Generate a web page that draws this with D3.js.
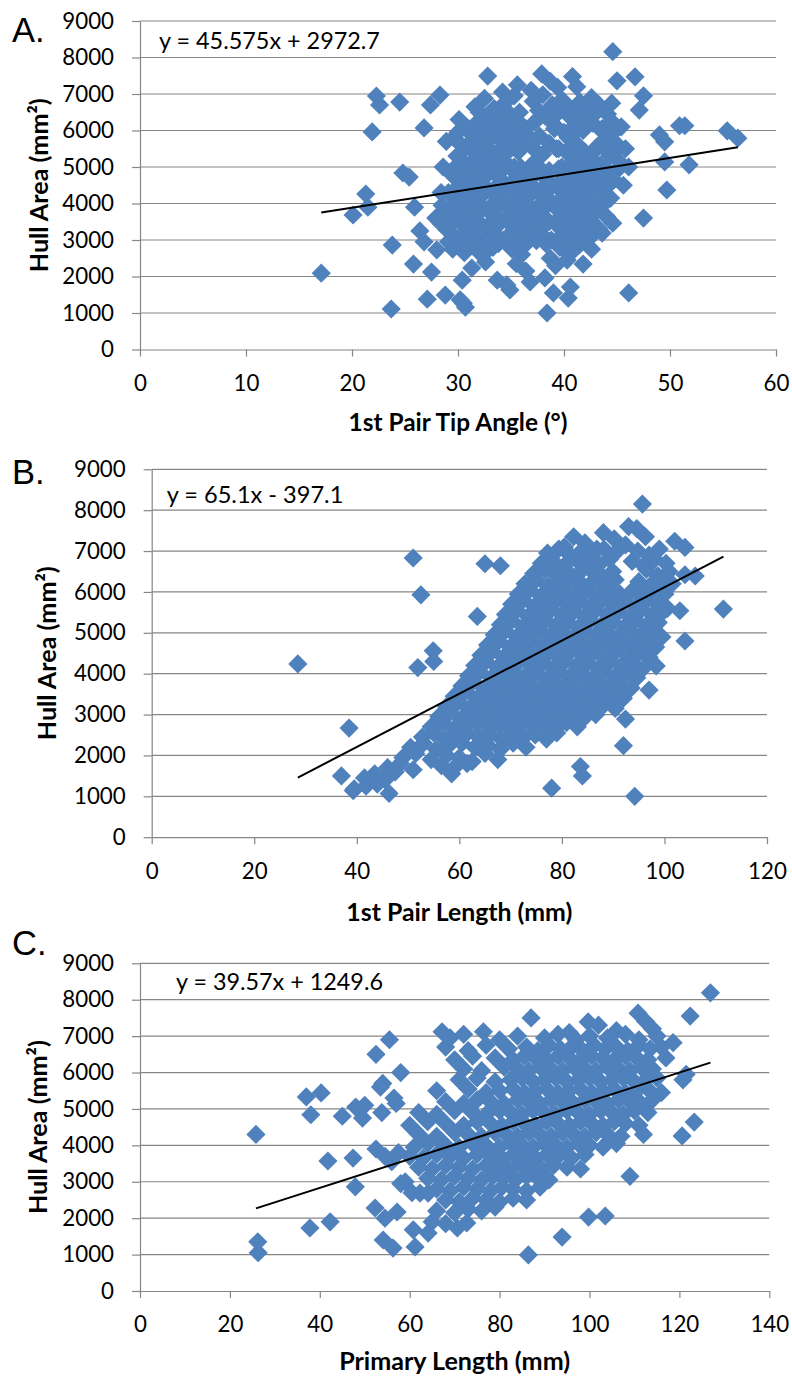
<!DOCTYPE html>
<html><head><meta charset="utf-8">
<script src="https://cdn.jsdelivr.net/npm/d3@7"></script>
<style>body{margin:0;background:#fff}svg{display:block}</style>
</head><body>
<svg id="chart" width="792" height="1382"></svg>
<script>
// ---------- labels / ticks ----------
const panelLabels = ["A.", "B.", "C."];
const yTitle = "Hull Area (mm²)";
const xTitles = ["1st Pair Tip Angle (°)", "1st Pair Length (mm)", "Primary Length (mm)"];
const equations = ["y = 45.575x + 2972.7", "y = 65.1x - 397.1", "y = 39.57x + 1249.6"];
const slopes = [45.575, 65.1, 39.57];
const intercepts = [2972.7, -397.1, 1249.6];
const yTicks = [0, 1000, 2000, 3000, 4000, 5000, 6000, 7000, 8000, 9000];
const xTicksA = [0, 10, 20, 30, 40, 50, 60];
const xTicksB = [0, 20, 40, 60, 80, 100, 120];
const xTicksC = [0, 20, 40, 60, 80, 100, 120, 140];

// ---------- data: [x, hull area] ----------
const dataA = [
[17.1,2090],[20.1,3685],[21.3,4260],[21.5,3900],[21.9,5960],[22.3,6945],[22.6,6700],[23.7,1110],[23.8,2860],[24.5,6780],
[24.8,4835],[25.4,4725],[25.8,2340],[25.9,3900],[26.4,3250],[27.1,1380],[27.5,2120],[28.3,6970],[27.4,6700],[26.8,6070],
[28.8,1490],[30.7,1160],[30.2,1360],[32.8,7490],[44.6,8160],[45.0,7360],[46.7,7470],[47.5,6950],[47.1,6560],[49.0,5880],
[49.5,5690],[50.9,6130],[51.4,6130],[55.4,5990],[56.4,5790],[51.8,5060],[49.5,5140],[49.7,4370],[47.5,3600],[46.1,1550],
[41.8,2340],[42.6,2750],[43.6,3190],[44.6,3460],[40.6,1710],[40.4,1410],[38.4,1000],[39.0,1550],[34.9,1630],[34.6,1770],
[33.7,1900],[30.5,1270],[30.4,1900],[31.3,2230],[28.0,2730],[26.8,2950],[27.9,3600],[28.4,4300],[28.6,5000],[28.9,5700],
[34.2,7050],[35.6,7250],[36.9,7100],[37.9,7550],[38.7,7350],[39.4,7180],[40.8,7480],[41.2,7200],[42.6,6900],[44.5,6750],
[31.6,6650],[32.5,6880],[33.4,6600],[34.4,6750],[35.3,6950],[37.1,6800],[38.0,6980],[38.9,6700],[39.8,6850],[40.6,6600],[41.5,6780],[42.4,6550],[43.3,6700],[44.1,6450],
[32.0,6500],[33.0,6400],[33.9,6550],[34.9,6450],[35.8,6500],[37.6,6550],[38.5,6450],[39.5,6500],[40.4,6420],[41.3,6500],[42.2,6400],[43.0,6480],
[30.1,6300],[31.0,6050],[31.9,6250],[32.8,6100],[33.7,6350],[34.6,6150],[35.5,6300],[36.4,6050],[37.3,6250],[38.2,6400],[39.1,6150],[40.9,6100],[41.8,6350],[42.7,6200],[43.6,6050],[44.5,6250],[45.4,6100],
[30.0,5950],[30.9,6000],[31.8,5900],[32.8,6020],[33.7,5950],[34.6,5880],[35.5,6000],[36.4,5920],[39.1,6050],[40.0,5950],[40.9,5900],[41.8,6000],[43.6,5980],[44.5,5900],
[29.6,5800],[30.5,5550],[31.4,5750],[32.3,5600],[33.2,5850],[34.1,5700],[35.0,5500],[35.9,5750],[36.8,5600],[37.7,5850],[38.6,5650],[39.5,5500],[40.4,5800],[41.3,5600],[43.1,5550],[44.0,5800],[44.9,5650],[45.8,5500],
[30.3,5400],[31.2,5500],[32.1,5420],[33.0,5480],[33.9,5400],[34.8,5500],[35.7,5420],[37.5,5400],[39.3,5500],[40.2,5420],[41.1,5480],[42.0,5400],[42.9,5450],[43.8,5500],[44.7,5420],
[29.9,5300],[30.8,5050],[31.7,5250],[32.6,5100],[33.5,5350],[34.4,5150],[35.3,5000],[37.1,5100],[38.0,5350],[39.8,5000],[40.7,5300],[41.6,5100],[42.5,5250],[43.4,5050],[44.3,5300],[45.2,5150],[46.1,5000],
[29.6,4950],[30.5,4900],[31.4,5000],[32.3,4920],[33.2,4980],[34.1,4900],[35.0,4950],[35.9,5000],[36.8,4920],[37.7,4980],[38.6,4900],[39.5,4950],[40.4,5000],[41.3,4920],[42.2,4980],[43.1,4900],[44.0,4950],[44.9,4880],
[29.4,4800],[30.3,4550],[31.2,4750],[32.1,4600],[33.0,4850],[33.9,4700],[34.8,4500],[35.7,4750],[36.6,4600],[37.5,4850],[38.4,4650],[39.3,4500],[40.2,4800],[41.1,4600],[42.0,4750],[42.9,4550],[43.8,4800],[44.7,4650],[45.6,4500],
[29.8,4400],[30.7,4500],[31.6,4420],[32.5,4480],[33.4,4400],[34.3,4450],[35.2,4500],[36.1,4420],[37.0,4480],[37.9,4400],[38.8,4450],[39.7,4500],[40.6,4420],[41.5,4480],[42.4,4400],[43.3,4450],[44.2,4500],
[29.1,4300],[30.0,4050],[30.9,4250],[31.8,4100],[32.7,4350],[33.6,4200],[34.5,4000],[35.4,4250],[36.3,4100],[37.2,4350],[38.1,4150],[39.0,4000],[39.9,4300],[40.8,4100],[41.7,4250],[42.6,4050],[43.5,4300],[44.4,4150],
[28.5,3950],[29.4,3900],[30.3,4000],[31.2,3920],[32.1,3980],[33.0,3900],[33.9,3950],[34.8,4000],[35.7,3920],[36.6,3980],[37.5,3900],[38.4,3950],[39.3,4000],[40.2,3920],[41.1,3980],[42.0,3900],[42.9,3950],[43.8,4000],
[28.7,3800],[29.6,3550],[30.5,3750],[31.4,3600],[32.3,3850],[33.2,3700],[34.1,3500],[35.0,3750],[35.9,3600],[36.8,3850],[37.7,3650],[38.6,3500],[39.5,3800],[40.4,3600],[41.3,3750],[42.2,3550],[43.1,3800],[44.0,3650],
[28.4,3450],[29.3,3400],[30.2,3500],[31.1,3420],[32.0,3480],[32.9,3400],[33.8,3450],[34.7,3500],[35.6,3420],[36.5,3480],[37.4,3400],[38.3,3450],[39.2,3500],[40.1,3420],[41.0,3480],[41.9,3400],[42.8,3450],
[28.9,3300],[29.8,3050],[30.7,3250],[31.6,3100],[32.5,3350],[33.4,3200],[34.3,3000],[35.2,3250],[36.1,3100],[37.0,3350],[37.9,3150],[38.8,3000],[39.7,3300],[40.6,3100],[41.5,3250],[42.4,3050],[43.3,3300],
[29.1,2950],[30.1,2900],[31.0,3000],[31.9,2920],[32.9,2980],[33.8,2900],[35.6,3000],[36.5,2920],[37.4,2980],[38.3,2900],[39.2,2950],[40.1,3000],[41.0,2920],[41.9,2980],
[29.5,2750],[30.6,2650],[31.5,2850],[32.4,2600],[33.3,2800],[35.1,2750],[36.0,2600],[38.7,2500],[39.6,2800],[40.5,2600],[41.4,2850],
[32.6,2400],[35.5,2350],[36.4,2150],[39.2,2300],[40.3,2450],[38.2,1960],[36.8,1850],[32.2,2600]
];

const dataB = [
[28.5,4240],[38.5,2670],[37.0,1500],[39.3,1140],[46.3,1070],[51.0,6830],[52.5,5930],[54.9,4560],[51.9,4150],[55.0,4300],[63.5,5400],[65.0,6690],[68.0,6640],
[95.7,8150],[111.5,5580],[106.0,6390],[104.0,6420],[102.0,7240],[104.0,7090],[98.4,4190],[92.4,2890],[92.0,2240],[83.6,1730],[84.0,1500],[78.0,1200],[94.2,1000],[103.0,5540],[104.0,4800],[97.0,3600],
[80.5,7100],[82.3,7350],[84.5,7200],[86.8,7050],[88.1,7450],[90.2,7300],[92.4,7150],[94.6,7550],[96.3,7350],[93.0,7600],
[77.2,6950],[79.4,7050],[81.6,6900],[83.8,7000],[86.0,6850],[88.2,7050],[90.4,6950],[94.8,7000],[97.0,6900],[99.0,7050],
[76.0,6700],[78.3,6750],[80.5,6650],[82.7,6800],[84.9,6700],[87.1,6650],[89.3,6800],[93.7,6750],[95.9,6650],[98.1,6800],[100.3,6700],
[74.5,6450],[76.7,6550],[78.9,6400],[81.1,6500],[83.3,6450],[85.5,6550],[87.7,6400],[89.9,6500],[96.5,6550],[98.7,6400],[100.9,6500],
[72.8,6200],[75.0,6300],[77.2,6150],[79.4,6250],[81.6,6300],[83.8,6200],[86.0,6250],[88.2,6150],[90.4,6300],[95.0,6250],[97.2,6150],[99.4,6300],[101.5,6200],
[71.5,5950],[73.7,6050],[75.9,5900],[78.1,6000],[80.3,6050],[82.5,5950],[84.7,6000],[86.9,5900],[89.1,6050],[91.3,5950],[93.5,6000],[95.7,5900],[97.9,6050],[100.1,5950],
[70.2,5700],[72.4,5800],[74.6,5650],[76.8,5750],[79.0,5800],[81.2,5700],[83.4,5750],[85.6,5650],[87.8,5800],[90.0,5700],[92.2,5750],[94.4,5650],[96.6,5800],[98.8,5700],[100.6,5600],
[69.0,5450],[71.2,5550],[73.4,5400],[75.6,5500],[77.8,5550],[80.0,5450],[82.2,5500],[84.4,5400],[86.6,5550],[88.8,5450],[91.0,5500],[93.2,5400],[95.4,5550],[97.6,5450],[99.6,5500],
[68.0,5200],[70.2,5300],[72.4,5150],[74.6,5250],[76.8,5300],[79.0,5200],[81.2,5250],[83.4,5150],[85.6,5300],[87.8,5200],[90.0,5250],[92.2,5150],[94.4,5300],[96.6,5200],[98.8,5250],
[66.8,4950],[69.0,5050],[71.2,4900],[73.4,5000],[75.6,5050],[77.8,4950],[80.0,5000],[82.2,4900],[84.4,5050],[86.6,4950],[88.8,5000],[91.0,4900],[93.2,5050],[95.4,4950],[97.6,5000],[99.5,4900],
[65.5,4700],[67.7,4800],[69.9,4650],[72.1,4750],[74.3,4800],[76.5,4700],[78.7,4750],[80.9,4650],[83.1,4800],[85.3,4700],[87.5,4750],[89.7,4650],[91.9,4800],[94.1,4700],[96.3,4750],[98.3,4650],
[64.2,4450],[66.4,4550],[68.6,4400],[70.8,4500],[73.0,4550],[75.2,4450],[77.4,4500],[79.6,4400],[81.8,4550],[84.0,4450],[86.2,4500],[88.4,4400],[90.6,4550],[92.8,4450],[95.0,4500],[97.0,4400],
[63.0,4200],[65.2,4300],[67.4,4150],[69.6,4250],[71.8,4300],[74.0,4200],[76.2,4250],[78.4,4150],[80.6,4300],[82.8,4200],[85.0,4250],[87.2,4150],[89.4,4300],[91.6,4200],[93.8,4250],[96.0,4150],
[61.8,3950],[64.0,4050],[66.2,3900],[68.4,4000],[70.6,4050],[72.8,3950],[75.0,4000],[77.2,3900],[79.4,4050],[81.6,3950],[83.8,4000],[86.0,3900],[88.2,4050],[90.4,3950],[92.6,4000],[94.6,3900],
[60.5,3700],[62.7,3800],[64.9,3650],[67.1,3750],[69.3,3800],[71.5,3700],[73.7,3750],[75.9,3650],[78.1,3800],[80.3,3700],[82.5,3750],[84.7,3650],[86.9,3800],[89.1,3700],[91.3,3750],[93.5,3650],
[59.0,3450],[61.2,3550],[63.4,3400],[65.6,3500],[67.8,3550],[70.0,3450],[72.2,3500],[74.4,3400],[76.6,3550],[78.8,3450],[81.0,3500],[83.2,3400],[85.4,3550],[87.6,3450],[89.8,3500],[92.0,3400],
[57.5,3200],[59.7,3300],[61.9,3150],[64.1,3250],[66.3,3300],[68.5,3200],[70.7,3250],[72.9,3150],[75.1,3300],[77.3,3200],[79.5,3250],[81.7,3150],[83.9,3300],[86.1,3200],[88.3,3250],[90.4,3150],
[56.0,2950],[58.2,3050],[60.4,2900],[62.6,3000],[64.8,3050],[67.0,2950],[69.2,3000],[71.4,2900],[73.6,3050],[75.8,2950],[78.0,3000],[80.2,2900],[82.4,3050],[84.6,2950],[86.6,3000],
[54.5,2700],[56.7,2800],[58.9,2650],[61.1,2750],[63.3,2800],[65.5,2700],[67.7,2750],[69.9,2650],[72.1,2800],[74.3,2700],[76.5,2750],[78.7,2650],[80.9,2800],[83.0,2700],
[52.8,2450],[55.0,2550],[57.2,2400],[59.4,2500],[61.6,2550],[63.8,2450],[66.0,2500],[68.2,2400],[70.4,2550],[72.6,2450],[74.8,2500],[77.0,2400],[79.0,2550],
[50.5,2200],[53.0,2300],[55.5,2150],[58.0,2250],[60.5,2300],[63.0,2200],[65.5,2250],[68.0,2150],[70.5,2300],[73.0,2200],
[49.0,1950],[51.5,2050],[54.5,1900],[57.5,2000],[60.0,1950],[62.5,1850],[65.0,2050],[67.5,1900],
[46.0,1700],[48.5,1800],[51.0,1650],[56.5,1750],[59.0,1700],[61.5,1800],
[41.5,1450],[43.5,1550],[45.5,1400],[47.5,1600],[58.5,1550],[39.5,1180],[41.8,1250],[44.0,1300]
];

const dataC = [
[26.2,1350],[26.3,1050],[25.8,4300],[37.0,5330],[38.0,4840],[40.3,5440],[37.8,1730],[42.3,1900],[41.8,3570],[45.0,4800],[47.4,3650],[47.9,2860],[48.0,5050],
[52.3,2280],[54.5,2000],[57.2,2170],[54.1,1400],[56.3,1180],[60.8,1680],[61.2,1210],[62.3,2690],[64.1,2690],[64.1,1590],
[99.8,2030],[103.5,2060],[93.9,1480],[86.4,990],[109.0,3150],[126.9,8190],[122.4,7550],[123.3,4640],[120.6,4260],[120.8,5800],
[52.5,6500],[53.5,5600],[54.0,5700],[55.5,6900],[53.8,4900],[56.5,5300],[57.0,5150],[58.0,6000],[50.0,5100],[49.5,4750],[52.5,3900],[54.5,3700],[56.0,3550],[57.5,3800],[59.0,3000],[60.5,2700],[58.0,2950],
[67.2,7120],[76.4,7120],[87.0,7500],[95.5,7100],[99.7,7390],[102.0,7300],[106.0,7150],[110.8,7630],[112.5,7400],[114.0,7200],
[69.0,6950],[72.0,7050],[80.0,6900],[84.0,7000],[90.0,6950],[93.0,7050],[97.0,6900],[100.0,7000],[104.0,6950],[108.0,7050],[111.0,6900],[115.0,7000],[118.6,6820],
[68.0,6700],[73.0,6600],[77.0,6750],[82.0,6650],[86.0,6700],[88.5,6600],[91.0,6750],[93.5,6650],[96.0,6700],[98.5,6600],[101.0,6750],[103.5,6650],[106.0,6700],[108.5,6600],[111.0,6750],[113.5,6650],[116.0,6700],
[70.0,6350],[74.0,6450],[79.0,6400],[83.0,6350],[85.5,6450],[88.0,6400],[90.5,6350],[93.0,6450],[95.5,6400],[98.0,6350],[100.5,6450],[103.0,6400],[105.5,6350],[108.0,6450],[110.5,6400],[113.0,6350],[117.0,6400],
[72.0,6100],[76.0,6050],[81.0,6150],[84.0,6100],[86.5,6050],[89.0,6150],[91.5,6100],[94.0,6050],[96.5,6150],[99.0,6100],[101.5,6050],[104.0,6150],[106.5,6100],[109.0,6050],[111.5,6150],[114.0,6100],[121.5,5950],
[71.0,5800],[75.0,5850],[79.0,5750],[82.5,5800],[85.0,5850],[87.5,5750],[90.0,5800],[92.5,5850],[95.0,5750],[97.5,5800],[100.0,5850],[102.5,5750],[105.0,5800],[107.5,5850],[110.0,5750],[112.5,5800],[115.0,5850],
[66.0,5500],[73.0,5550],[77.0,5450],[80.0,5500],[83.0,5550],[85.5,5450],[88.0,5500],[90.5,5550],[93.0,5450],[95.5,5500],[98.0,5550],[100.5,5450],[103.0,5500],[105.5,5550],[108.0,5450],[110.5,5500],[113.0,5550],[116.0,5450],
[68.0,5200],[72.0,5150],[75.0,5250],[78.0,5200],[81.0,5150],[84.0,5250],[86.5,5200],[89.0,5150],[91.5,5250],[94.0,5200],[96.5,5150],[99.0,5250],[101.5,5200],[104.0,5150],[106.5,5250],[109.0,5200],[111.5,5150],[114.0,5250],
[62.0,4900],[66.0,4850],[70.0,4950],[74.0,4900],[77.0,4850],[80.0,4950],[82.5,4900],[85.0,4850],[87.5,4950],[90.0,4900],[92.5,4850],[95.0,4950],[97.5,4900],[100.0,4850],[102.5,4950],[105.0,4900],[107.5,4850],[110.0,4950],[113.0,4900],
[60.0,4550],[64.0,4650],[68.0,4600],[72.0,4550],[75.0,4650],[78.0,4600],[80.5,4550],[83.0,4650],[85.5,4600],[88.0,4550],[90.5,4650],[93.0,4600],[95.5,4550],[98.0,4650],[100.5,4600],[103.0,4550],[105.5,4650],[108.0,4600],[111.0,4550],
[62.0,4300],[66.0,4250],[70.0,4350],[73.0,4300],[76.0,4250],[79.0,4350],[81.5,4300],[84.0,4250],[86.5,4350],[89.0,4300],[91.5,4250],[94.0,4350],[96.5,4300],[99.0,4250],[101.5,4350],[104.0,4300],[107.0,4250],[112.0,4300],
[61.0,3950],[64.0,4050],[68.0,4000],[71.0,3950],[74.0,4050],[77.0,4000],[80.0,3950],[82.5,4050],[85.0,4000],[87.5,3950],[90.0,4050],[92.5,4000],[95.0,3950],[97.5,4050],[100.0,4000],[103.0,3950],[106.0,4050],
[60.0,3700],[63.0,3650],[66.0,3750],[69.0,3700],[72.0,3650],[75.0,3750],[78.0,3700],[80.5,3650],[83.0,3750],[85.5,3700],[88.0,3650],[90.5,3750],[93.0,3700],[96.0,3650],[99.0,3750],
[62.0,3400],[65.0,3350],[68.0,3450],[71.0,3400],[74.0,3350],[77.0,3450],[79.5,3400],[82.0,3350],[84.5,3450],[87.0,3400],[89.5,3350],[92.0,3450],[95.0,3400],[98.0,3350],
[64.0,3100],[67.0,3050],[70.0,3150],[73.0,3100],[76.0,3050],[78.5,3150],[81.0,3100],[83.5,3050],[86.0,3150],[88.5,3100],[91.0,3050],
[66.0,2800],[69.0,2750],[72.0,2850],[75.0,2800],[78.0,2750],[80.5,2850],[83.0,2800],[86.0,2750],[89.0,2850],
[68.0,2500],[71.0,2450],[74.0,2550],[77.0,2500],[80.0,2450],[83.0,2550],[86.0,2500],
[66.0,2200],[70.0,2150],[73.0,2250],[76.0,2200],[79.0,2300],[65.0,1900],[68.0,1850],[72.7,1870],[70.6,1730]
];

// ---------- layout ----------
const panels = [
  {label: panelLabels[0], data: dataA, xTicks: xTicksA, xMax: 60, left: 140, right: 776, top: 21, bottom: 349.5,
   labelY: 42, eqX: 159, eqY: 48.5, eqW: 221, xTitleY: 431, xTitleW: 219, yTitleX: 48},
  {label: panelLabels[1], data: dataB, xTicks: xTicksB, xMax: 120, left: 151.7, right: 767, top: 469.3, bottom: 837.2,
   labelY: 484.3, eqX: 166.7, eqY: 503.3, eqW: 176.7, xTitleY: 920.5, xTitleW: 226, yTitleX: 56},
  {label: panelLabels[2], data: dataC, xTicks: xTicksC, xMax: 140, left: 140, right: 769.3, top: 963.3, bottom: 1291,
   labelY: 955, eqX: 176, eqY: 990, eqW: 207, xTitleY: 1370, xTitleW: 231, yTitleX: 47}
];

const svg = d3.select("#chart");
const FONT = "Lato, 'Open Sans', 'DejaVu Sans', sans-serif";
const GRID = "#868686";
const BLUE = "#4F81BD";
const diamond = "M0,-9.6L9.6,0L0,9.6L-9.6,0Z";

function fitText(sel, target) {
  const w = sel.node().getComputedTextLength();
  const fs = parseFloat(sel.attr("font-size"));
  sel.attr("font-size", (fs * target / w).toFixed(2));
}

let yTitleSize = null;

panels.forEach((p, i) => {
  const x = d3.scaleLinear().domain([0, p.xMax]).range([p.left, p.right]);
  const y = d3.scaleLinear().domain([0, 9000]).range([p.bottom, p.top]);
  const g = svg.append("g");

  g.append("g").selectAll("line").data(yTicks.filter(d => d > 0)).join("line")
    .attr("x1", p.left).attr("x2", p.right)
    .attr("y1", d => y(d)).attr("y2", d => y(d))
    .attr("stroke", GRID).attr("stroke-width", 1.2);

  const ya = g.append("g").attr("transform", `translate(${p.left},0)`)
    .call(d3.axisLeft(y).tickValues(yTicks).tickSize(8).tickSizeOuter(0).tickPadding(18).tickFormat(d3.format("d")));
  const xa = g.append("g").attr("transform", `translate(0,${p.bottom})`)
    .call(d3.axisBottom(x).tickValues(p.xTicks).tickSize(7).tickSizeOuter(0).tickPadding(18.5).tickFormat(d3.format("d")));
  [ya, xa].forEach(a => {
    a.select(".domain").attr("stroke", GRID).attr("stroke-width", 1.2);
    a.selectAll(".tick line").attr("stroke", GRID).attr("stroke-width", 1.2);
    a.selectAll(".tick text").attr("fill", "#000").attr("font-family", FONT).attr("font-size", 22.3);
  });

  g.append("g").selectAll("path").data(p.data).join("path")
    .attr("d", diamond)
    .attr("transform", d => `translate(${x(d[0])},${y(d[1])})`)
    .attr("fill", BLUE);

  const ext = d3.extent(p.data, d => d[0]);
  g.append("line")
    .attr("x1", x(ext[0])).attr("y1", y(slopes[i] * ext[0] + intercepts[i]))
    .attr("x2", x(ext[1])).attr("y2", y(slopes[i] * ext[1] + intercepts[i]))
    .attr("stroke", "#000").attr("stroke-width", 2);

  const eq = g.append("text").attr("x", p.eqX).attr("y", p.eqY)
    .attr("font-family", FONT).attr("font-size", 20).attr("fill", "#000").text(equations[i]);
  fitText(eq, p.eqW);

  g.append("text").attr("x", 12).attr("y", p.labelY)
    .attr("font-family", "'Liberation Sans', Arial, sans-serif").attr("font-size", 34.5).attr("fill", "#000")
    .text(p.label);

  const xt = g.append("text").attr("x", (p.left + p.right) / 2).attr("y", p.xTitleY)
    .attr("text-anchor", "middle").attr("font-family", FONT).attr("font-weight", "bold")
    .attr("font-size", 20).attr("fill", "#000").text(xTitles[i]);
  fitText(xt, p.xTitleW);

  const cy = (p.top + p.bottom) / 2;
  const yt = g.append("text").attr("transform", `translate(${p.yTitleX},${cy}) rotate(-90)`)
    .attr("text-anchor", "middle").attr("font-family", FONT).attr("font-weight", "bold")
    .attr("font-size", 20).attr("fill", "#000").text(yTitle);
  if (yTitleSize === null) { fitText(yt, 174); yTitleSize = yt.attr("font-size"); }
  else yt.attr("font-size", yTitleSize);
});
</script>
</body></html>
